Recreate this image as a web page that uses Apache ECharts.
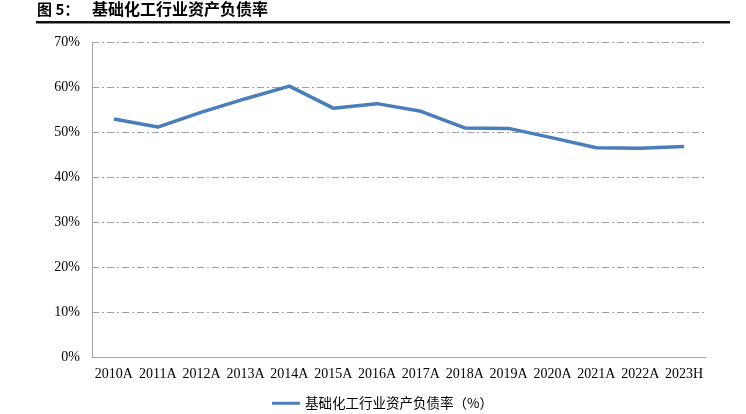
<!DOCTYPE html>
<html><head><meta charset="utf-8">
<script src="https://cdn.jsdelivr.net/npm/echarts@6/dist/echarts.min.js"></script>
<style>html,body{margin:0;padding:0;background:#fff;}#c{width:746px;height:414px;}</style>
</head><body><div id="c"></div>
<script>
var categories = ['2010A','2011A','2012A','2013A','2014A','2015A','2016A','2017A','2018A','2019A','2020A','2021A','2022A','2023H'];
var debtRatio = [52.9, 51.1, 54.4, 57.4, 60.2, 55.3, 56.3, 54.6, 50.9, 50.8, 48.7, 46.5, 46.4, 46.8];
var yTicks = [0, 10, 20, 30, 40, 50, 60, 70];
var seriesName = '基础化工行业资产负债率（%）';
var titlePrefix = '图 5：';
var titleText = '基础化工行业资产负债率';

var chart = echarts.init(document.getElementById('c'), null, {renderer: 'canvas'});
chart.setOption({
  animation: false,
  backgroundColor: '#fff',
  graphic: [
    {type: 'text', left: 37, top: 2, style: {text: titlePrefix, font: 'bold 15px "Noto Sans CJK SC"', fill: '#000'}},
    {type: 'text', left: 92, top: 1, style: {text: titleText, font: 'bold 16px "Noto Sans CJK SC"', fill: '#000'}},
    {type: 'rect', shape: {x: 36, y: 21, width: 694, height: 2.5}, style: {fill: '#111'}}
  ],
  grid: {left: 92, right: 40, top: 42, bottom: 57},
  legend: {
    bottom: -1, left: 267,
    itemWidth: 28, itemHeight: 3, itemGap: 6,
    icon: 'rect',
    textStyle: {fontFamily: '"Noto Sans CJK SC"', fontSize: 13.5, color: '#000'},
    data: [seriesName]
  },
  xAxis: {
    type: 'category', data: categories, boundaryGap: true,
    axisLine: {lineStyle: {color: '#a6a6a6', width: 1}},
    axisTick: {show: false},
    axisLabel: {fontFamily: '"Liberation Serif"', fontSize: 14, color: '#000', margin: 10, interval: 0}
  },
  yAxis: {
    type: 'value', min: 0, max: 70, interval: 10,
    axisLine: {show: true, lineStyle: {color: '#a6a6a6', width: 1}},
    axisTick: {show: false},
    axisLabel: {fontFamily: '"Liberation Serif"', fontSize: 14, color: '#000', margin: 12, formatter: function(v){return v + '%';}},
    splitLine: {show: true, lineStyle: {color: '#a0a0a0', width: 1, type: [7, 3, 2, 3]}}
  },
  series: [{
    name: seriesName, type: 'line', data: debtRatio,
    symbol: 'none', smooth: false,
    lineStyle: {color: '#4a7ebb', width: 3.5},
    itemStyle: {color: '#4a7ebb'}
  }]
});
</script></body></html>
